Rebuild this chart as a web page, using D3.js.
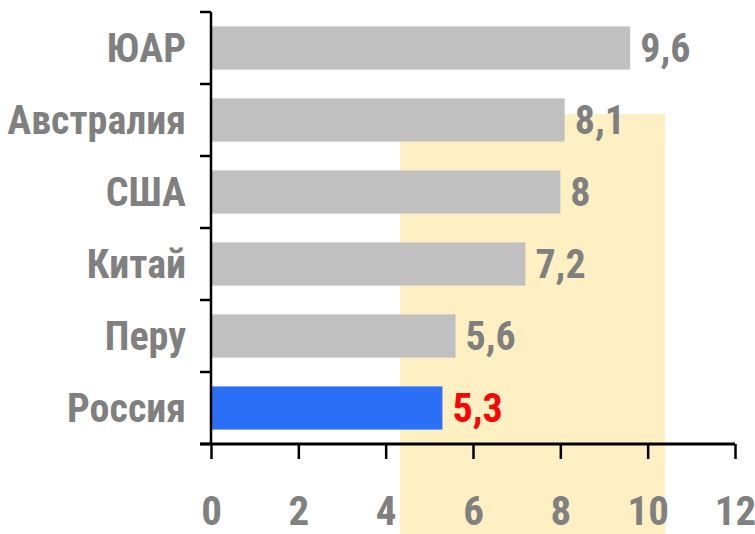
<!DOCTYPE html>
<html>
<head>
<meta charset="utf-8">
<script src="https://cdn.jsdelivr.net/npm/d3@7"></script>
<style>
  html, body { margin: 0; padding: 0; background: #fff; }
  svg text { font-family: "Liberation Sans Narrow", "Arial Narrow", "Roboto Condensed", sans-serif; font-weight: bold; }
</style>
</head>
<body>
<div id="chart"></div>
<script>
  const countries = ["ЮАР", "Австралия", "США", "Китай", "Перу", "Россия"];
  const values = [9.6, 8.1, 8, 7.2, 5.6, 5.3];
  const valueLabels = ["9,6", "8,1", "8", "7,2", "5,6", "5,3"];
  const xTicks = [0, 2, 4, 6, 8, 10, 12];
  const highlightRange = [4.33, 10.4];

  const width = 755;
  const height = 534;
  const margin = { top: 12, right: 20, bottom: 90, left: 211 };

  const grayBar = "#c0c0c0";
  const mainBar = "#2b6ff6";
  const labelColor = "#808080";
  const highlightColor = "#fff0c4";

  const svg = d3.select("#chart").append("svg")
    .attr("width", width)
    .attr("height", height);

  const x = d3.scaleLinear()
    .domain([0, 12])
    .range([margin.left, 735]);

  const y = d3.scaleBand()
    .domain(countries)
    .range([margin.top, height - margin.bottom])
    .paddingInner(0.4)
    .paddingOuter(0.2);

  const data = countries.map((c, i) => ({ country: c, value: values[i], label: valueLabels[i] }));

  // highlight zone behind the bars
  svg.append("rect")
    .attr("x", x(highlightRange[0]))
    .attr("width", x(highlightRange[1]) - x(highlightRange[0]))
    .attr("y", y("Австралия") + y.bandwidth() / 2 - 6)
    .attr("height", height)
    .attr("fill", highlightColor);

  svg.append("g").selectAll("rect")
    .data(data)
    .enter()
    .append("rect")
    .attr("x", x(0))
    .attr("y", d => y(d.country))
    .attr("width", d => x(d.value) - x(0))
    .attr("height", y.bandwidth())
    .attr("fill", d => d.country === "Россия" ? mainBar : grayBar);

  svg.append("g").selectAll("text")
    .data(data)
    .enter()
    .append("text")
    .attr("x", d => x(d.value) + 10)
    .attr("y", d => y(d.country) + y.bandwidth() / 2)
    .attr("dy", "0.36em")
    .attr("font-size", 40)
    .attr("fill", d => d.country === "Россия" ? "#ff0000" : labelColor)
    .text(d => d.label);

  // category labels
  svg.append("g").selectAll("text")
    .data(countries)
    .enter()
    .append("text")
    .attr("x", margin.left - 25)
    .attr("y", d => y(d) + y.bandwidth() / 2)
    .attr("dy", "0.36em")
    .attr("text-anchor", "end")
    .attr("font-size", 40)
    .attr("fill", labelColor)
    .text(d => d);

  // y axis with ticks on band boundaries
  const yBottom = height - margin.bottom;
  const boundaries = countries.map(c => y(c) - y.step() * y.paddingInner() / 2);
  boundaries[0] = margin.top;
  boundaries.push(yBottom);

  svg.append("line")
    .attr("x1", x(0)).attr("x2", x(0))
    .attr("y1", margin.top).attr("y2", yBottom)
    .attr("stroke", "#000").attr("stroke-width", 2.5);

  svg.append("g").selectAll("line")
    .data(boundaries)
    .enter()
    .append("line")
    .attr("x1", x(0) - 11).attr("x2", x(0))
    .attr("y1", d => d).attr("y2", d => d)
    .attr("stroke", "#000").attr("stroke-width", 2.5);

  // x axis
  const xAxis = svg.append("g")
    .attr("transform", `translate(0,${yBottom})`)
    .call(d3.axisBottom(x).tickValues(xTicks).tickSize(15).tickPadding(37).tickSizeOuter(0));

  xAxis.select(".domain")
    .attr("d", `M${x(0) - 11},0H${x(12)}`)
    .attr("stroke", "#000")
    .attr("stroke-width", 3);
  xAxis.selectAll(".tick line").attr("stroke", "#000").attr("stroke-width", 2.5);
  xAxis.selectAll(".tick text")
    .attr("font-size", 41)
    .attr("fill", labelColor);
  xAxis.attr("font-family", null);
</script>
</body>
</html>
